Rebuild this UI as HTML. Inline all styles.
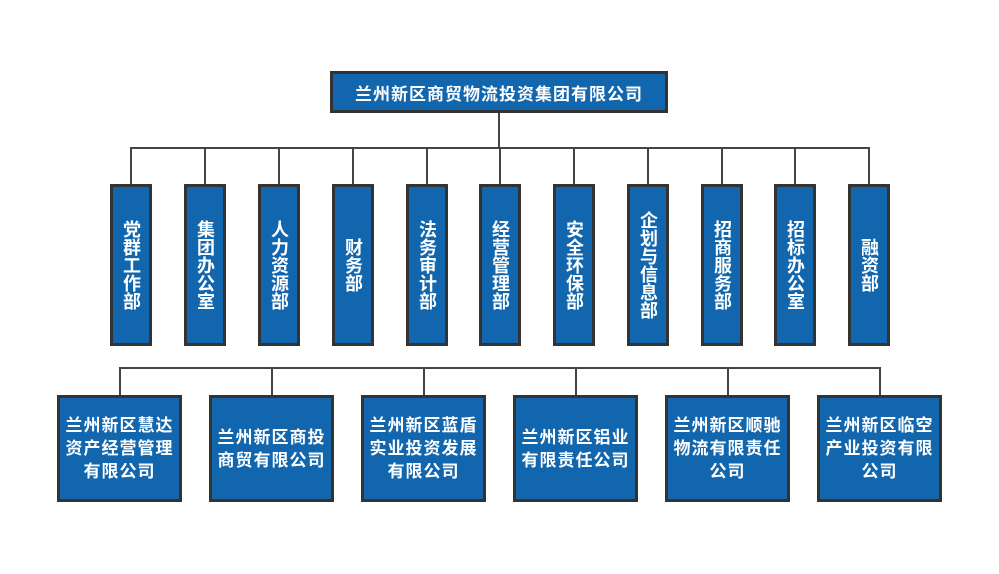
<!DOCTYPE html>
<html><head><meta charset="utf-8"><style>
body{margin:0;width:999px;height:574px;background:#fff;position:relative;overflow:hidden;font-family:"Liberation Sans","Noto Sans CJK SC",sans-serif;font-weight:bold;color:#fff}
.b{position:absolute;background:#1266ae;border:3px solid #333;box-sizing:border-box;display:flex;align-items:center;justify-content:center;text-align:center}
.v{width:42px;height:162px;top:184px;font-size:18px;line-height:20px;writing-mode:vertical-rl;text-orientation:upright}
.h{width:125px;height:107px;top:395px;font-size:17px;line-height:23px;letter-spacing:1px;white-space:nowrap}
.l{position:absolute;background:#444}
</style></head><body>
<div class="b" style="left:330px;top:71px;width:338px;height:42px;font-size:17px;letter-spacing:1px">兰州新区商贸物流投资集团有限公司</div>
<div class="l" style="left:498px;top:113px;width:2px;height:36px"></div>
<div class="l" style="left:130px;top:147px;width:740px;height:2px"></div>
<div class="l" style="left:130px;top:147px;width:2px;height:37px"></div>
<div class="l" style="left:204px;top:147px;width:2px;height:37px"></div>
<div class="l" style="left:278px;top:147px;width:2px;height:37px"></div>
<div class="l" style="left:352px;top:147px;width:2px;height:37px"></div>
<div class="l" style="left:426px;top:147px;width:2px;height:37px"></div>
<div class="l" style="left:499px;top:147px;width:2px;height:37px"></div>
<div class="l" style="left:573px;top:147px;width:2px;height:37px"></div>
<div class="l" style="left:647px;top:147px;width:2px;height:37px"></div>
<div class="l" style="left:721px;top:147px;width:2px;height:37px"></div>
<div class="l" style="left:794px;top:147px;width:2px;height:37px"></div>
<div class="l" style="left:868px;top:147px;width:2px;height:37px"></div>
<div class="b v" style="left:110px">党群工作部</div>
<div class="b v" style="left:184px">集团办公室</div>
<div class="b v" style="left:258px">人力资源部</div>
<div class="b v" style="left:332px">财务部</div>
<div class="b v" style="left:406px">法务审计部</div>
<div class="b v" style="left:479px">经营管理部</div>
<div class="b v" style="left:553px">安全环保部</div>
<div class="b v" style="left:627px">企划与信息部</div>
<div class="b v" style="left:701px">招商服务部</div>
<div class="b v" style="left:774px">招标办公室</div>
<div class="b v" style="left:848px">融资部</div>
<div class="l" style="left:119px;top:367px;width:762px;height:2px"></div>
<div class="l" style="left:119px;top:367px;width:2px;height:28px"></div>
<div class="l" style="left:271px;top:367px;width:2px;height:28px"></div>
<div class="l" style="left:423px;top:367px;width:2px;height:28px"></div>
<div class="l" style="left:575px;top:367px;width:2px;height:28px"></div>
<div class="l" style="left:727px;top:367px;width:2px;height:28px"></div>
<div class="l" style="left:879px;top:367px;width:2px;height:28px"></div>
<div class="b h" style="left:57px">兰州新区慧达<br>资产经营管理<br>有限公司</div>
<div class="b h" style="left:209px">兰州新区商投<br>商贸有限公司</div>
<div class="b h" style="left:361px">兰州新区蓝盾<br>实业投资发展<br>有限公司</div>
<div class="b h" style="left:513px">兰州新区铝业<br>有限责任公司</div>
<div class="b h" style="left:665px">兰州新区顺驰<br>物流有限责任<br>公司</div>
<div class="b h" style="left:817px">兰州新区临空<br>产业投资有限<br>公司</div>
</body></html>
